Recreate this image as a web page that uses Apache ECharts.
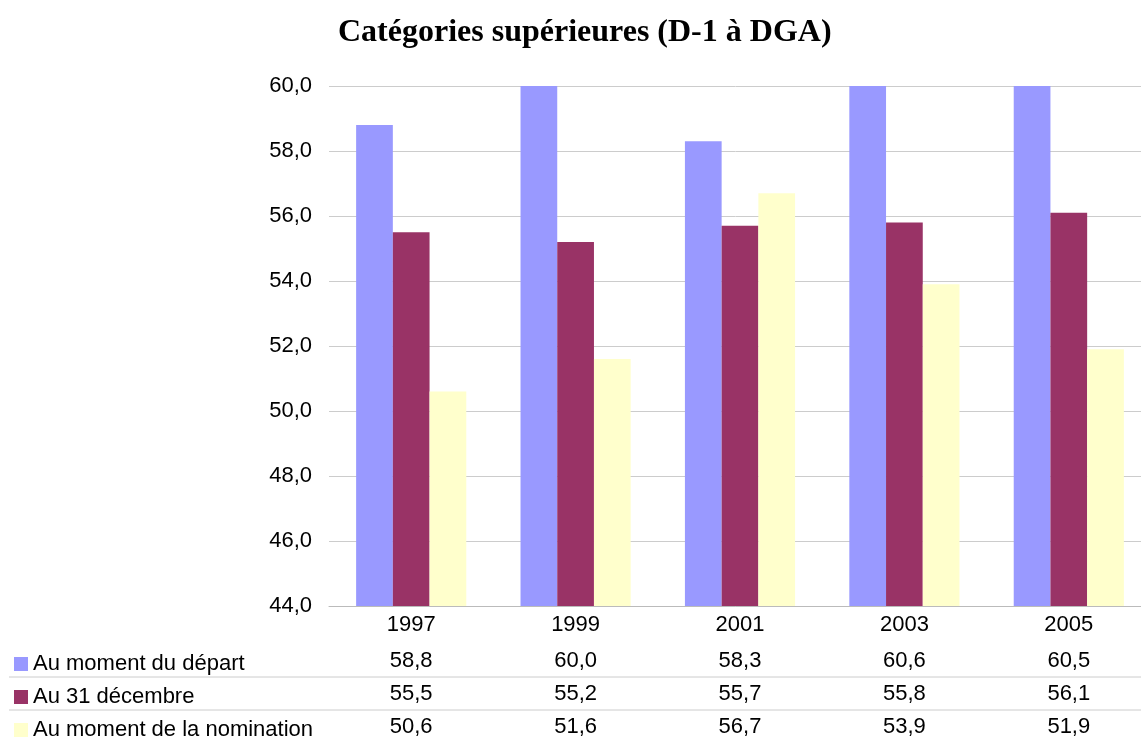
<!DOCTYPE html>
<html><head><meta charset="utf-8">
<script src="https://cdn.jsdelivr.net/npm/echarts@6/dist/echarts.min.js"></script>
<style>html,body{margin:0;padding:0;background:#fff}#c{width:1141px;height:740px}</style>
</head><body><div id="c"></div>
<script>
var categories = ['1997', '1999', '2001', '2003', '2005'];
var seriesNames = ['Au moment du départ', 'Au 31 décembre', 'Au moment de la nomination'];
var depart = [58.8, 60.0, 58.3, 60.6, 60.5];
var decembre = [55.5, 55.2, 55.7, 55.8, 56.1];
var nomination = [50.6, 51.6, 56.7, 53.9, 51.9];
var colors = ['#9999FF', '#993366', '#FFFFCC'];
var yMin = 44, yMax = 60, yStep = 2;

function fmt(v) { return v.toFixed(1).replace('.', ','); }
var all = [depart, decembre, nomination];
var rowTops = [653, 686, 719];

var chart = echarts.init(document.getElementById('c'));
chart.setOption({
  animation: false,
  title: {
    text: 'Catégories supérieures (D-1 à DGA)',
    left: 333, top: 12,
    textStyle: { fontFamily: 'Liberation Serif', fontWeight: 'bold', fontSize: 32, color: '#000' }
  },
  legend: seriesNames.map(function (n, k) {
    return {
      orient: 'vertical', left: 14, top: rowTops[k], padding: 0,
      itemWidth: 14, itemHeight: 14, itemGap: 5,
      icon: 'rect',
      textStyle: { fontFamily: 'Liberation Sans', fontSize: 22, color: '#000', lineHeight: 22 },
      data: [n]
    };
  }),
  grid: { left: 329, width: 822, top: 86, height: 520, outerBoundsMode: 'none', containLabel: false },
  xAxis: {
    type: 'category', data: categories,
    axisLine: { lineStyle: { color: '#bbbbbb' } },
    axisTick: { show: false },
    axisLabel: {
      margin: 0, fontFamily: 'Liberation Sans', fontSize: 22, color: '#000',
      rich: {
        y: { fontFamily: 'Liberation Sans', fontSize: 22, color: '#000', lineHeight: 38 },
        v: { fontFamily: 'Liberation Sans', fontSize: 22, color: '#000', lineHeight: 33 }
      },
      formatter: function (v, i) {
        return ['{y|' + v + '}'].concat(all.map(function (a) { return '{v|' + fmt(a[i]) + '}'; })).join('\n');
      }
    }
  },
  yAxis: {
    type: 'value', min: yMin, max: yMax, interval: yStep,
    axisLine: { show: false }, axisTick: { show: false },
    splitLine: { lineStyle: { color: '#cccccc' } },
    axisLabel: { margin: 17, fontFamily: 'Liberation Sans', fontSize: 22, color: '#000', formatter: function (v) { return fmt(v); } }
  },
  series: all.map(function (d, k) {
    return {
      name: seriesNames[k], type: 'bar', data: d,
      itemStyle: { color: colors[k] },
      barGap: '0%', barCategoryGap: '33%', clip: true
    };
  }),
  graphic: [
    { type: 'line', shape: { x1: 9, y1: 677, x2: 1141, y2: 677 }, style: { stroke: '#cccccc', lineWidth: 1 } },
    { type: 'line', shape: { x1: 9, y1: 710, x2: 1141, y2: 710 }, style: { stroke: '#cccccc', lineWidth: 1 } }
  ]
});
</script></body></html>
